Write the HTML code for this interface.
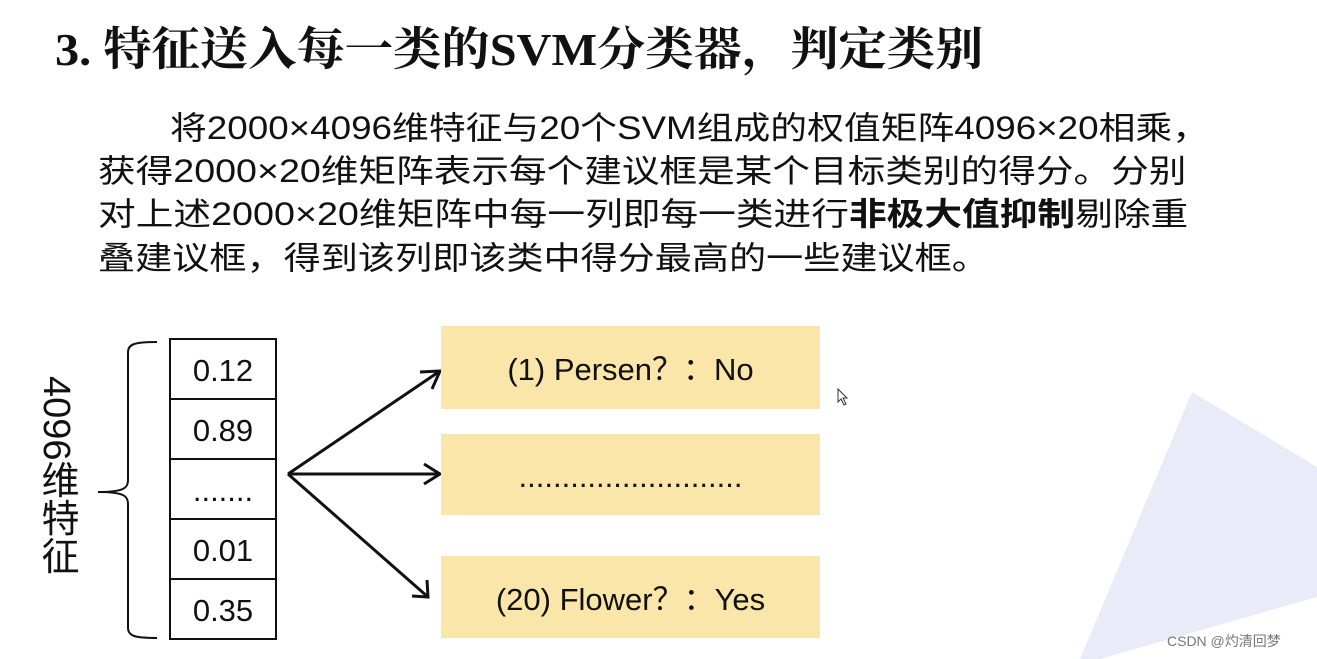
<!DOCTYPE html>
<html><head><meta charset="utf-8"><style>
body{margin:0;width:1317px;height:659px;background:#fff;position:relative;overflow:hidden;font-family:"Liberation Sans","Noto Sans CJK SC",sans-serif;}
.t{position:absolute;white-space:nowrap;color:#111;transform-origin:0 50%;}
.title{left:55px;top:22px;font-family:"Liberation Serif","Noto Serif CJK SC",serif;font-weight:bold;font-size:46px;line-height:56px;transform:scaleX(1.05);}
.p{font-size:32px;line-height:40px;left:98px;}
.cell{position:absolute;left:169px;width:104px;height:58px;border:2px solid #111;box-sizing:content-box;font-size:31px;text-align:center;line-height:62px;color:#111;}
.yb{position:absolute;left:441px;width:379px;background:#fae6a9;font-size:31px;text-align:center;color:#111;font-family:"Liberation Sans","Noto Sans CJK SC",sans-serif;}
.v{position:absolute;left:34px;top:376px;writing-mode:vertical-rl;text-orientation:mixed;font-size:38px;line-height:44px;color:#111;}
</style></head><body>
<svg width="1317" height="659" style="position:absolute;left:0;top:0">
<polygon points="1192,392 1317,467 1317,597 1100,659 1080,659" fill="#e9ecf8"/>
<path d="M157,342 C135,342 128,344 128,352 L128,480 C128,488 124,492 98,492 C124,492 128,496 128,504 L128,628 C128,636 135,638 157,638" fill="none" stroke="#111" stroke-width="2"/>
<g stroke="#111" stroke-width="3" fill="none">
<line x1="288" y1="474" x2="440" y2="371"/>
<line x1="288" y1="474" x2="440" y2="474"/>
<line x1="288" y1="474" x2="428" y2="597"/>
<polyline points="420,372 440,371 432,389"/>
<polyline points="424,464 440,474 424,484"/>
<polyline points="412,596 428,597 427,580"/>
</g>
<path d="M838,389 L838,402 L841,399 L844,405 L846,404 L843,398 L847,398 Z" fill="#fff" stroke="#333" stroke-width="1"/>
</svg>
<div class="t title">3. 特征送入每一类的SVM分类器，判定类别</div>
<div class="t p" style="left:170px;top:108px;transform:scaleX(1.15)">将2000×4096维特征与20个SVM组成的权值矩阵4096×20相乘，</div>
<div class="t p" style="top:151px;transform:scaleX(1.176)">获得2000×20维矩阵表示每个建议框是某个目标类别的得分。分别</div>
<div class="t p" style="top:194px;transform:scaleX(1.178)">对上述2000×20维矩阵中每一列即每一类进行<b>非极大值抑制</b>剔除重</div>
<div class="t p" style="top:238px;transform:scaleX(1.16)">叠建议框，得到该列即该类中得分最高的一些建议框。</div>
<div class="v">4096维特征</div>
<div class="cell" style="top:338px">0.12</div>
<div class="cell" style="top:398px">0.89</div>
<div class="cell" style="top:458px">.......</div>
<div class="cell" style="top:518px">0.01</div>
<div class="cell" style="top:578px">0.35</div>
<div class="yb" style="top:326px;height:83px;line-height:88px">(1) Persen？：No</div>
<div class="yb" style="top:434px;height:81px;line-height:86px">..........................</div>
<div class="yb" style="top:556px;height:82px;line-height:88px">(20) Flower？：Yes</div>
<div class="t" style="left:1167px;top:631px;font-size:14px;color:#777">CSDN @灼清回梦</div>
</body></html>
